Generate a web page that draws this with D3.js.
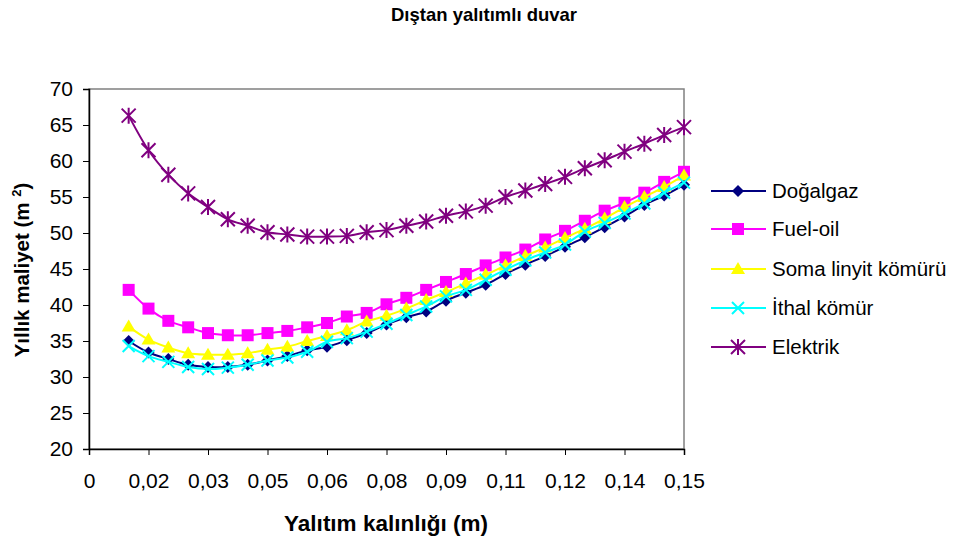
<!DOCTYPE html>
<html><head><meta charset="utf-8">
<script src="https://cdn.jsdelivr.net/npm/d3@7"></script>
<style>body{margin:0;background:#fff}svg{display:block;font-family:"Liberation Sans",Arial,sans-serif}</style>
</head><body><svg id="c" width="959" height="545"></svg>
<script>
const thickness = [0.01,0.015,0.02,0.025,0.03,0.035,0.04,0.045,0.05,0.055,0.06,0.065,0.07,0.075,0.08,0.085,0.09,0.095,0.1,0.105,0.11,0.115,0.12,0.125,0.13,0.135,0.14,0.145,0.15];
const dogalgaz = [35.0,33.4,32.5,31.7,31.4,31.4,31.7,32.3,32.9,33.7,34.2,35.1,36.1,37.3,38.3,39.1,40.6,41.7,42.8,44.3,45.6,46.8,48.1,49.4,50.8,52.3,53.9,55.2,56.7];
const fueloil = [42.1,39.5,37.8,36.9,36.1,35.8,35.8,36.1,36.4,36.9,37.5,38.4,38.9,40.1,41.0,42.1,43.2,44.3,45.5,46.6,47.7,49.1,50.3,51.7,53.1,54.2,55.6,57.1,58.5];
const soma = [37.0,35.2,34.1,33.3,33.1,33.1,33.3,33.8,34.2,35.0,35.7,36.5,37.7,38.5,39.5,40.7,41.8,43.0,44.2,45.5,46.8,48.0,49.3,50.6,52.0,53.6,55.0,56.4,58.0];
const ithal = [34.3,32.9,32.1,31.4,31.1,31.3,31.7,32.3,32.7,33.5,34.9,35.4,36.3,37.4,38.6,39.8,41.2,42.1,43.5,44.9,46.2,47.3,48.4,50.2,51.4,52.7,54.1,55.6,57.0];
const elektrik = [66.3,61.5,58.1,55.5,53.6,51.9,51.0,50.1,49.8,49.5,49.5,49.6,50.1,50.4,51.0,51.6,52.4,53.0,53.8,55.0,55.9,56.8,57.8,59.0,60.1,61.3,62.4,63.6,64.7];
const seriesNames = ["Doğalgaz","Fuel-oil","Soma linyit kömürü","İthal kömür","Elektrik"];
const xTickValues = [0,0.015,0.03,0.045,0.06,0.075,0.09,0.105,0.12,0.135,0.15];
const xTickLabels = ["0","0,02","0,03","0,05","0,06","0,08","0,09","0,11","0,12","0,14","0,15"];
const yTicks = [20,25,30,35,40,45,50,55,60,65,70];

const series = [
  {name:seriesNames[0], values:dogalgaz, color:"#000080", marker:"diamond"},
  {name:seriesNames[1], values:fueloil, color:"#FF00FF", marker:"square"},
  {name:seriesNames[2], values:soma, color:"#FFFF00", marker:"triangle"},
  {name:seriesNames[3], values:ithal, color:"#00FFFF", marker:"x"},
  {name:seriesNames[4], values:elektrik, color:"#800080", marker:"star"}
];

const svg = d3.select("#c");
const L=89, R=684, T=89, B=449;
const x = d3.scaleLinear().domain([0,0.15]).range([L,R]);
const y = d3.scaleLinear().domain([20,70]).range([B,T]);

// plot border
svg.append("rect").attr("x",L).attr("y",T).attr("width",R-L).attr("height",B-T)
  .attr("fill","#fff").attr("stroke","#808080").attr("stroke-width",1.5);

const yAxis = svg.append("g").attr("transform",`translate(${L},0)`)
  .call(d3.axisLeft(y).tickValues(yTicks).tickSize(6).tickPadding(10));
const xAxis = svg.append("g").attr("transform",`translate(0,${B})`)
  .call(d3.axisBottom(x).tickValues(xTickValues).tickFormat((d,i)=>xTickLabels[i]).tickSize(6).tickPadding(18));
[yAxis,xAxis].forEach(g=>{
  g.select(".domain").attr("stroke","#000").attr("stroke-width",1.5);
  g.selectAll(".tick line").attr("stroke","#000");
  g.selectAll("text").attr("font-size",21).attr("fill","#000").attr("font-family","'Liberation Sans',Arial,sans-serif");
});

function drawMarker(g, type, color, cx, cy){
  if(type==="diamond"){
    g.append("path").attr("d",`M${cx},${cy-6}L${cx+6},${cy}L${cx},${cy+6}L${cx-6},${cy}Z`).attr("fill",color);
  } else if(type==="square"){
    g.append("rect").attr("x",cx-6).attr("y",cy-6).attr("width",12).attr("height",12).attr("fill",color);
  } else if(type==="triangle"){
    g.append("path").attr("d",`M${cx},${cy-7}L${cx+7},${cy+5}L${cx-7},${cy+5}Z`).attr("fill",color);
  } else if(type==="x"){
    g.append("path").attr("d",`M${cx-6},${cy-6}L${cx+6},${cy+6}M${cx-6},${cy+6}L${cx+6},${cy-6}`).attr("stroke",color).attr("stroke-width",2);
  } else if(type==="star"){
    g.append("path").attr("d",`M${cx-7},${cy-7}L${cx+7},${cy+7}M${cx-7},${cy+7}L${cx+7},${cy-7}M${cx},${cy-8}L${cx},${cy+8}`).attr("stroke",color).attr("stroke-width",2);
  }
}

const line = d3.line().x((d,i)=>x(thickness[i])).y(d=>y(d)).curve(d3.curveCatmullRom.alpha(0.5));
series.forEach(s=>{
  const g = svg.append("g");
  g.append("path").datum(s.values).attr("d",line).attr("fill","none").attr("stroke",s.color).attr("stroke-width",2);
  s.values.forEach((v,i)=>drawMarker(g,s.marker,s.color,x(thickness[i]),y(v)));
});

// legend
const legY = [191,229,269,308,347];
series.forEach((s,i)=>{
  const g = svg.append("g");
  g.append("line").attr("x1",711).attr("x2",766).attr("y1",legY[i]).attr("y2",legY[i]).attr("stroke",s.color).attr("stroke-width",2);
  drawMarker(g,s.marker,s.color,738,legY[i]);
  g.append("text").attr("x",772).attr("y",legY[i]).attr("dy","0.35em").attr("font-size",20.5).text(s.name);
});

// titles
svg.append("text").attr("x",484).attr("y",21).attr("text-anchor","middle").attr("font-size",18.5).attr("font-weight","bold").text("Dıştan yalıtımlı duvar");
svg.append("text").attr("x",386).attr("y",531).attr("text-anchor","middle").attr("font-size",22.5).attr("font-weight","bold").text("Yalıtım kalınlığı (m)");
const yl = svg.append("text").attr("transform","translate(29,270) rotate(-90)").attr("text-anchor","middle").attr("font-size",20.5).attr("font-weight","bold");
yl.append("tspan").text("Yıllık maliyet (m ");
yl.append("tspan").attr("font-size",13).attr("dy",-8).text("2");
yl.append("tspan").attr("dy",8).text(")");
</script></body></html>
